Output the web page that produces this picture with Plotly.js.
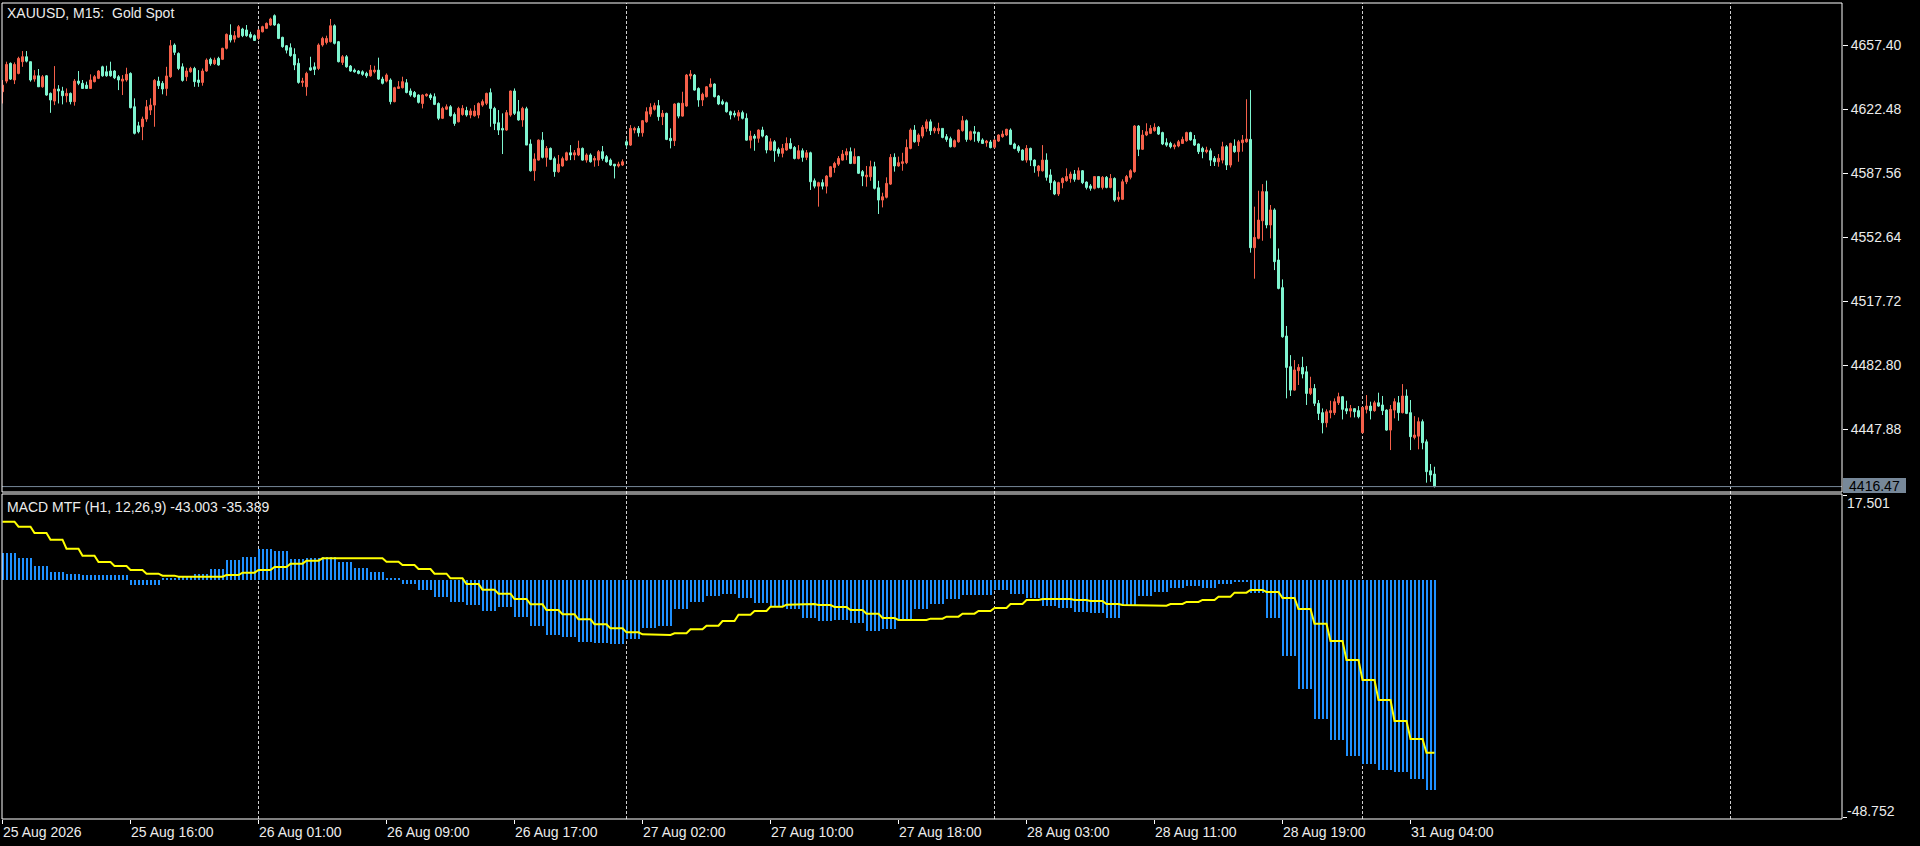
<!DOCTYPE html>
<html><head><meta charset="utf-8">
<script src="https://cdn.plot.ly/plotly-3.0.1.min.js"></script>
<style>html,body{margin:0;padding:0;background:#000;overflow:hidden}#chart{width:1920px;height:846px}</style>
</head><body><div id="chart"></div>
<script>
// XAUUSD M15 bars (index 0 = 25 Aug 2026 08:00)
const barOpen = [
4631.9,4637.7,4647.4,4638.3,4641.9,4648.3,4651.0,4648.3,4638.8,4640.6,
4634.6,4640.6,4631.0,4626.8,4633.4,4632.3,4629.7,4631.0,4626.5,4637.7,
4636.5,4635.5,4633.7,4637.4,4639.2,4645.5,4642.8,4643.2,4643.2,4640.1,
4637.7,4638.3,4641.9,4623.7,4613.3,4612.8,4617.0,4621.9,4624.6,4637.7,
4636.5,4633.7,4640.1,4657.4,4652.8,4645.5,4640.1,4642.8,4644.6,4638.3,
4637.0,4643.2,4649.6,4647.2,4650.1,4649.6,4655.6,4662.8,4660.6,4661.7,
4666.1,4665.6,4663.2,4662.5,4661.0,4664.6,4666.5,4668.3,4673.4,4668.7,
4661.6,4657.0,4655.9,4652.3,4647.4,4637.0,4634.6,4645.0,4645.5,4644.6,
4657.4,4658.8,4659.2,4667.9,4659.2,4647.9,4651.0,4645.9,4643.7,4643.2,
4642.8,4641.9,4640.6,4642.8,4643.7,4638.8,4637.7,4638.3,4626.5,4633.7,
4634.1,4636.8,4632.3,4631.5,4630.1,4625.5,4629.7,4630.1,4629.2,4625.5,
4617.4,4622.4,4623.7,4619.5,4615.5,4619.5,4621.7,4619.2,4618.8,4619.2,
4624.6,4625.6,4631.4,4622.8,4615.0,4611.9,4611.0,4619.2,4632.3,4621.0,
4616.5,4622.6,4603.4,4588.8,4594.6,4605.5,4596.1,4601.0,4595.4,4588.3,
4591.4,4594.6,4598.6,4597.4,4597.4,4601.0,4594.6,4597.4,4594.6,4594.6,
4599.2,4596.5,4594.6,4592.4,4591.4,4591.9,4604.6,4602.8,4611.0,4611.9,
4609.5,4615.5,4619.7,4622.3,4624.3,4618.3,4620.1,4606.5,4605.2,4625.6,
4618.6,4624.1,4640.5,4641.0,4633.7,4627.4,4629.2,4634.6,4636.1,4629.6,
4626.5,4625.9,4621.0,4620.1,4618.6,4620.5,4617.4,4605.5,4607.7,4606.5,
4611.0,4607.7,4600.1,4604.6,4600.5,4598.3,4600.1,4603.7,4601.5,4595.5,
4599.7,4596.1,4598.6,4583.3,4580.4,4582.3,4580.4,4585.5,4590.6,4592.4,
4594.6,4597.4,4599.2,4592.8,4596.5,4588.3,4585.5,4585.5,4591.0,4579.5,
4572.8,4574.3,4581.5,4596.1,4591.4,4592.8,4593.2,4601.0,4611.0,4604.6,
4607.7,4611.9,4615.5,4610.6,4610.6,4611.9,4607.4,4606.3,4601.9,4604.6,
4610.7,4616.1,4605.9,4610.1,4609.7,4605.6,4604.1,4604.5,4601.6,4605.0,
4607.4,4608.3,4611.0,4603.4,4601.9,4600.1,4594.6,4601.0,4594.6,4588.8,
4588.8,4594.6,4586.5,4582.8,4576.1,4582.3,4583.4,4584.6,4587.0,4584.1,
4588.8,4582.6,4580.5,4579.2,4585.6,4579.7,4585.2,4579.7,4584.6,4573.2,
4573.2,4582.8,4585.2,4588.3,4613.2,4600.5,4608.3,4609.2,4610.7,4612.5,
4609.6,4604.1,4603.7,4601.9,4602.3,4603.7,4605.2,4609.6,4605.9,4603.4,
4601.0,4599.2,4599.7,4595.6,4593.7,4594.6,4601.9,4591.9,4602.3,4599.2,
4604.1,4604.6,4605.9,4546.8,4551.9,4561.5,4577.4,4559.2,4567.4,4540.1,
4525.0,4498.6,4481.9,4469.1,4479.7,4481.5,4479.1,4467.3,4470.0,4461.9,
4456.8,4451.3,4456.8,4456.8,4462.2,4465.5,4459.0,4457.7,4459.0,4457.9,
4445.9,4458.6,4460.4,4457.9,4462.2,4461.0,4458.2,4447.3,4458.2,4462.2,
4456.8,4465.9,4456.8,4443.3,4444.0,4451.9,4440.9,4425.1,4423.3];
const barHigh = [
4638.3,4648.3,4647.9,4647.9,4651.0,4654.1,4654.1,4648.3,4643.7,4644.3,
4641.0,4641.0,4631.5,4645.9,4635.5,4634.6,4633.7,4631.5,4638.8,4643.2,
4638.3,4637.4,4641.4,4641.0,4643.7,4646.1,4646.1,4648.3,4643.7,4641.0,
4641.0,4645.0,4642.5,4628.3,4615.5,4618.3,4627.4,4628.3,4638.8,4640.1,
4637.7,4645.5,4660.1,4658.3,4653.4,4647.4,4645.0,4645.5,4645.5,4643.7,
4644.6,4650.1,4650.5,4650.5,4651.0,4655.9,4663.7,4668.7,4665.0,4668.3,
4666.8,4668.3,4664.6,4663.2,4666.1,4667.9,4669.7,4672.3,4674.1,4669.2,
4661.9,4657.4,4658.3,4655.6,4650.1,4639.5,4642.8,4651.0,4647.9,4658.3,
4661.9,4662.5,4671.6,4668.7,4659.6,4651.9,4651.9,4646.5,4644.6,4643.7,
4643.6,4642.8,4646.5,4646.1,4650.5,4640.1,4641.9,4639.2,4634.6,4637.7,
4640.1,4638.8,4633.7,4632.3,4630.5,4630.5,4631.0,4631.0,4631.0,4626.1,
4623.7,4625.0,4624.6,4620.6,4623.7,4624.6,4623.7,4622.8,4624.6,4626.1,
4627.7,4631.4,4633.7,4623.7,4621.9,4620.1,4621.9,4632.5,4633.7,4627.4,
4623.7,4623.7,4605.9,4598.3,4605.9,4609.9,4602.3,4601.5,4596.5,4597.4,
4596.5,4599.2,4602.8,4600.1,4605.2,4601.5,4598.3,4598.3,4596.8,4600.1,
4602.3,4597.4,4595.5,4592.4,4593.7,4595.0,4605.9,4613.7,4612.8,4613.2,
4616.5,4623.4,4625.6,4625.9,4627.4,4621.9,4620.5,4611.9,4625.6,4625.9,
4631.9,4641.6,4643.7,4641.6,4634.3,4631.4,4635.0,4639.2,4636.5,4630.1,
4627.7,4626.5,4621.6,4621.6,4621.9,4621.6,4620.1,4610.6,4608.8,4611.4,
4612.8,4608.3,4606.5,4605.5,4601.5,4603.4,4607.0,4606.5,4602.3,4602.8,
4601.0,4600.1,4599.2,4584.6,4582.8,4584.1,4586.4,4591.4,4593.7,4596.8,
4600.1,4601.0,4601.5,4601.0,4596.8,4589.2,4591.4,4594.3,4593.7,4583.3,
4576.8,4585.2,4597.9,4598.3,4596.5,4598.6,4605.9,4611.9,4613.7,4609.2,
4613.7,4616.8,4616.8,4612.8,4615.0,4611.9,4608.8,4607.4,4605.9,4611.4,
4618.7,4616.8,4610.7,4613.2,4610.1,4606.5,4605.6,4605.6,4605.9,4608.7,
4610.7,4611.7,4611.9,4604.1,4602.8,4600.5,4602.8,4601.4,4595.0,4591.9,
4602.8,4598.3,4589.6,4583.7,4582.8,4585.2,4590.1,4588.3,4589.2,4590.6,
4589.2,4583.0,4581.5,4585.9,4585.6,4585.9,4585.9,4587.0,4585.2,4577.4,
4584.1,4586.5,4589.6,4613.7,4613.7,4611.0,4614.7,4613.7,4614.7,4613.2,
4610.1,4606.5,4604.6,4603.7,4605.6,4607.4,4610.1,4610.1,4608.3,4603.7,
4601.9,4601.9,4601.0,4596.8,4597.9,4604.6,4602.8,4604.1,4605.9,4605.6,
4608.3,4627.8,4632.8,4569.2,4577.9,4581.5,4583.4,4570.1,4568.3,4546.4,
4529.5,4504.1,4488.2,4485.5,4483.3,4487.3,4482.2,4476.4,4472.4,4463.7,
4459.1,4458.6,4463.3,4464.6,4467.7,4465.9,4463.3,4461.0,4459.1,4460.4,
4459.7,4466.4,4462.8,4463.3,4467.7,4465.9,4458.6,4461.0,4464.6,4465.9,
4472.4,4469.5,4463.7,4454.9,4454.2,4453.1,4442.2,4428.8,4427.3];
const barLow = [
4625.5,4636.5,4638.3,4636.1,4641.4,4645.5,4647.9,4637.4,4637.4,4634.6,
4634.1,4629.7,4620.4,4624.6,4625.5,4625.0,4626.1,4625.0,4624.3,4635.5,
4633.4,4633.4,4633.4,4637.0,4638.8,4640.1,4640.1,4640.1,4638.8,4632.8,
4630.1,4637.4,4622.8,4608.6,4609.2,4605.5,4615.5,4619.2,4612.8,4633.4,
4630.5,4629.7,4639.5,4651.9,4643.7,4637.4,4637.7,4642.3,4634.6,4634.6,
4635.2,4642.8,4646.1,4646.5,4646.1,4649.2,4655.0,4658.8,4658.8,4661.4,
4661.7,4661.9,4661.0,4659.6,4660.1,4664.3,4666.1,4667.9,4667.9,4660.6,
4655.9,4652.8,4651.0,4643.7,4636.3,4634.6,4629.7,4643.2,4641.0,4643.7,
4656.5,4657.7,4658.8,4657.7,4647.9,4646.5,4645.0,4642.8,4642.3,4641.4,
4640.6,4639.5,4640.1,4641.9,4638.3,4635.9,4637.0,4625.0,4626.1,4633.4,
4633.7,4631.0,4629.2,4628.6,4625.5,4622.8,4629.2,4627.4,4624.6,4616.4,
4617.0,4621.9,4618.3,4613.3,4615.2,4618.8,4618.3,4617.4,4618.3,4617.4,
4623.7,4624.6,4612.8,4611.0,4608.3,4597.9,4610.6,4618.3,4619.2,4616.1,
4612.8,4602.8,4588.3,4583.3,4594.3,4595.5,4591.0,4594.6,4585.5,4587.7,
4591.0,4594.1,4594.6,4594.6,4596.8,4594.3,4593.2,4593.2,4591.0,4591.4,
4594.3,4593.2,4591.4,4584.6,4590.6,4591.4,4601.5,4602.3,4609.2,4607.4,
4607.4,4615.0,4618.3,4621.6,4616.1,4613.7,4605.5,4601.0,4602.3,4617.4,
4618.3,4623.7,4638.7,4632.5,4623.7,4624.1,4628.8,4634.3,4628.8,4624.6,
4624.6,4620.5,4616.8,4617.9,4616.1,4616.8,4605.2,4601.0,4599.7,4604.1,
4607.0,4598.3,4599.7,4593.7,4596.5,4596.1,4599.7,4600.5,4595.0,4595.0,
4593.7,4594.6,4578.3,4579.2,4569.2,4578.6,4576.4,4585.2,4587.7,4591.4,
4594.3,4594.6,4592.4,4592.4,4587.0,4580.4,4580.1,4583.3,4578.6,4565.2,
4568.8,4573.7,4581.0,4588.3,4591.0,4588.8,4592.4,4600.5,4604.1,4602.3,
4606.5,4610.1,4608.3,4609.2,4608.8,4606.5,4604.6,4601.5,4601.5,4604.1,
4610.1,4604.6,4605.2,4604.6,4604.1,4603.4,4601.9,4601.0,4601.0,4604.5,
4606.8,4607.7,4602.8,4600.5,4598.6,4594.3,4593.2,4591.4,4587.7,4585.6,
4588.3,4583.4,4578.3,4575.5,4575.0,4579.2,4582.8,4582.3,4582.8,4583.7,
4581.5,4578.6,4577.9,4578.6,4579.2,4578.6,4579.2,4579.2,4571.9,4571.9,
4572.8,4581.5,4584.1,4587.7,4596.8,4600.1,4607.7,4608.8,4610.1,4608.3,
4602.8,4601.9,4601.0,4600.5,4601.6,4603.4,4604.6,4605.2,4602.3,4597.9,
4595.6,4598.3,4591.4,4591.4,4591.0,4592.8,4589.2,4590.6,4598.6,4593.7,
4599.2,4604.1,4544.1,4529.9,4551.4,4550.6,4557.4,4551.9,4534.6,4524.1,
4497.7,4464.6,4465.9,4468.8,4471.9,4475.5,4461.0,4466.4,4460.4,4452.8,
4445.5,4448.8,4453.7,4455.5,4461.0,4453.1,4456.0,4454.2,4454.2,4453.7,
4445.5,4456.4,4453.1,4457.3,4460.0,4455.5,4446.9,4436.4,4453.7,4452.4,
4456.4,4456.0,4436.4,4442.2,4436.8,4436.8,4418.6,4419.1,4416.0];
const barClose = [
4635.5,4646.8,4638.8,4646.8,4650.1,4651.0,4648.6,4638.3,4640.6,4634.6,
4640.1,4630.1,4627.4,4633.4,4632.3,4629.7,4631.0,4626.5,4637.7,4636.5,
4633.7,4633.7,4638.3,4640.1,4643.2,4640.6,4640.6,4640.6,4639.5,4638.3,
4638.8,4641.4,4623.2,4609.2,4610.1,4617.0,4623.7,4624.6,4638.1,4635.2,
4633.4,4640.5,4657.0,4653.4,4644.6,4638.1,4643.2,4644.6,4637.4,4637.0,
4643.2,4649.2,4647.2,4649.2,4646.5,4655.6,4663.2,4660.1,4662.5,4667.4,
4662.5,4662.5,4661.7,4659.9,4665.6,4667.4,4669.2,4671.6,4668.3,4661.0,
4656.5,4654.6,4651.6,4646.5,4637.0,4637.7,4641.9,4643.7,4644.1,4657.4,
4661.0,4661.0,4667.9,4658.3,4648.3,4651.0,4645.5,4643.2,4642.8,4641.9,
4641.4,4640.6,4643.7,4643.7,4638.8,4636.5,4641.0,4626.5,4634.1,4634.6,
4637.4,4631.5,4630.1,4629.2,4626.1,4630.1,4630.5,4628.6,4625.0,4617.4,
4622.8,4623.7,4618.8,4614.6,4622.8,4622.8,4619.2,4621.4,4621.4,4625.5,
4626.5,4631.0,4622.8,4614.6,4611.0,4611.0,4620.5,4632.3,4620.1,4616.5,
4622.8,4602.8,4588.8,4595.2,4605.5,4596.1,4601.0,4595.0,4588.3,4592.4,
4595.4,4598.6,4597.4,4598.6,4601.0,4594.6,4597.4,4593.7,4595.5,4599.2,
4595.5,4593.7,4591.9,4591.4,4592.4,4593.7,4602.8,4611.9,4611.9,4609.5,
4616.1,4621.0,4623.4,4624.3,4618.3,4620.1,4605.9,4605.2,4625.2,4618.6,
4625.6,4641.0,4641.6,4632.8,4627.4,4630.5,4634.6,4636.1,4629.2,4625.2,
4625.2,4621.0,4619.2,4619.2,4620.5,4617.4,4605.5,4607.7,4606.5,4611.0,
4607.7,4600.1,4604.6,4599.7,4598.3,4601.0,4603.7,4601.0,4595.5,4599.7,
4596.1,4598.6,4582.8,4580.4,4582.3,4580.4,4585.9,4591.0,4592.8,4595.5,
4597.9,4599.2,4592.8,4596.5,4587.4,4585.9,4586.4,4591.0,4579.2,4572.8,
4574.6,4581.9,4596.1,4591.4,4593.2,4593.7,4601.5,4611.0,4604.6,4608.3,
4612.5,4615.5,4610.6,4611.9,4611.9,4607.0,4605.9,4601.9,4605.2,4611.0,
4616.1,4605.9,4610.1,4609.2,4605.2,4603.7,4605.0,4601.4,4605.6,4608.3,
4608.8,4611.4,4603.2,4601.0,4599.7,4594.6,4601.0,4594.6,4591.4,4591.4,
4594.6,4585.2,4582.3,4576.1,4582.3,4584.6,4585.6,4587.0,4584.1,4588.8,
4582.3,4579.7,4579.2,4585.6,4579.7,4585.2,4579.7,4584.6,4572.8,4574.3,
4582.8,4585.6,4588.8,4613.2,4600.5,4608.3,4610.1,4611.9,4612.5,4608.8,
4603.4,4602.8,4601.9,4602.8,4604.6,4605.9,4609.6,4605.6,4602.8,4599.2,
4599.2,4600.1,4594.6,4593.7,4595.6,4601.9,4591.9,4603.7,4599.2,4604.6,
4605.6,4606.1,4546.8,4552.4,4561.9,4577.4,4559.2,4567.4,4539.2,4524.6,
4498.2,4481.5,4469.1,4480.1,4481.5,4477.9,4467.3,4470.0,4461.9,4456.4,
4451.3,4457.3,4457.9,4462.8,4465.5,4458.6,4457.7,4459.0,4457.3,4454.6,
4459.7,4460.4,4457.9,4462.2,4460.4,4457.9,4447.3,4458.6,4462.8,4456.8,
4465.9,4456.4,4443.7,4444.6,4451.9,4440.4,4424.6,4422.8,4416.47];

// MACD MTF (H1, 12,26,9): one value per H1 bar (4 M15 bars each)
const macdMainH1 = [
5.54,4.65,2.94,1.71,1.30,1.09,1.09,1.09,-0.96,-0.96,
0.55,0.75,1.30,2.32,4.17,4.79,6.50,6.02,4.38,4.65,
4.79,3.76,2.53,1.71,0.48,-0.82,-1.98,-3.35,-4.38,-4.99,
-6.22,-5.54,-7.45,-9.30,-11.15,-11.69,-12.65,-12.92,-13.13,-11.97,
-9.71,-9.30,-5.95,-4.38,-3.15,-2.87,-3.56,-4.58,-5.20,-5.81,
-7.66,-8.27,-8.07,-8.68,-10.32,-9.91,-8.00,-5.81,-4.79,-3.76,
-2.94,-2.94,-1.91,-2.74,-3.56,-5.20,-5.61,-6.43,-6.63,-7.66,
-4.99,-3.15,-2.32,-1.50,-1.09,-1.50,-0.82,-0.27,-2.53,-7.66,
-15.45,-22.22,-28.38,-32.68,-35.97,-37.61,-38.84,-39.25,-40.68,-43.003];
const macdSignalH1 = [
12.03,11.01,9.71,8.34,6.50,5.06,3.76,2.94,2.12,1.37,
0.96,0.75,0.75,0.75,1.09,1.57,2.12,2.74,3.42,4.03,
4.51,4.65,4.65,4.51,3.83,3.15,2.32,1.37,0.41,-0.75,
-1.91,-2.74,-3.83,-4.92,-6.09,-6.97,-8.00,-9.03,-9.85,-10.67,
-11.08,-11.21,-10.87,-10.05,-9.30,-8.34,-7.04,-6.29,-5.40,-4.99,
-4.85,-5.06,-5.47,-6.09,-6.84,-7.73,-8.14,-8.14,-7.86,-7.45,
-6.84,-6.29,-5.68,-4.85,-4.03,-3.83,-3.83,-4.03,-4.24,-4.85,
-5.06,-5.20,-5.20,-4.85,-4.44,-4.03,-3.35,-2.53,-1.98,-2.39,
-3.62,-5.88,-8.89,-12.44,-16.34,-20.44,-24.55,-28.85,-32.55,-35.389];
const barsPerH1 = 4;

const timeTickBars = [0,32,64,96,128,160,192,224,256,288,320,352];
const timeTickLabels = ['25 Aug 2026','25 Aug 16:00','26 Aug 01:00','26 Aug 09:00','26 Aug 17:00','27 Aug 02:00','27 Aug 10:00','27 Aug 18:00','28 Aug 03:00','28 Aug 11:00','28 Aug 19:00','31 Aug 04:00'];
const daySeparatorBars = [64,156,248,340,432];
const priceTicks = [4657.40,4622.48,4587.56,4552.64,4517.72,4482.80,4447.88];
const macdScaleTicks = [17.501,-48.752];
const lastPrice = 4416.47;
const chartTitle = 'XAUUSD, M15:  Gold Spot';
const macdTitle = 'MACD MTF (H1, 12,26,9) -43.003 -35.389';

const barIndex = barOpen.map((_, i) => i);
const histPerBar = barIndex.map(i => macdMainH1[Math.floor(i / barsPerH1)]);
const signalPerBar = barIndex.map(i => macdSignalH1[Math.floor(i / barsPerH1)]);

const UP = '#F5604A', DOWN = '#7FF5D0', TXT = '#ececec';
const FONT = 'Liberation Sans, Arial, sans-serif';

const traces = [
  { type:'candlestick', x:barIndex, open:barOpen, high:barHigh, low:barLow, close:barClose,
    xaxis:'x', yaxis:'y', whiskerwidth:0, hoverinfo:'skip',
    increasing:{line:{color:UP,width:1}, fillcolor:UP},
    decreasing:{line:{color:DOWN,width:1}, fillcolor:DOWN} },
  { type:'bar', x:barIndex, y:histPerBar, width:0.5, xaxis:'x', yaxis:'y2',
    marker:{color:'#1E90FF', line:{width:0}}, hoverinfo:'skip' },
  { type:'scatter', mode:'lines', x:barIndex, y:signalPerBar, xaxis:'x', yaxis:'y2',
    line:{color:'#FFFF00', width:2}, hoverinfo:'skip' }
];

const shapes = daySeparatorBars.map(b => ({
  type:'line', xref:'x', yref:'paper', x0:b, x1:b, y0:0, y1:1, layer:'below',
  line:{color:'#cfcfcf', width:1, dash:'3px,2px'} }));
shapes.push({ type:'line', xref:'paper', yref:'y', x0:0, x1:1, y0:lastPrice, y1:lastPrice,
  line:{color:'#778899', width:1} });
shapes.push({ type:'rect', xref:'paper', yref:'paper', x0:0, x1:1, y0:0.4007, y1:1,
  line:{color:'#ffffff', width:1}, fillcolor:'rgba(0,0,0,0)' });
shapes.push({ type:'rect', xref:'paper', yref:'paper', x0:0, x1:1, y0:0, y1:0.3983,
  line:{color:'#ffffff', width:1}, fillcolor:'rgba(0,0,0,0)' });

const annotations = [
  { xref:'paper', yref:'paper', x:0.0016, y:0.9877, xanchor:'left', yanchor:'middle', showarrow:false,
    text:chartTitle, font:{family:FONT, size:14, color:TXT} },
  { xref:'paper', yref:'paper', x:0.0016, y:0.3827, xanchor:'left', yanchor:'middle', showarrow:false,
    text:macdTitle, font:{family:FONT, size:14, color:TXT} },
  { xref:'paper', yref:'paper', x:1, xshift:3, y:0.3873, xanchor:'left', yanchor:'middle', showarrow:false,
    text:macdScaleTicks[0].toFixed(3), font:{family:FONT, size:14, color:TXT} },
  { xref:'paper', yref:'paper', x:1, xshift:3, y:0.0098, xanchor:'left', yanchor:'middle', showarrow:false,
    text:macdScaleTicks[1].toFixed(3), font:{family:FONT, size:14, color:TXT} },
  { xref:'paper', yref:'y', x:1, xshift:1, y:lastPrice, yshift:1, xanchor:'left', yanchor:'middle', showarrow:false,
    text:lastPrice.toFixed(2), bgcolor:'#778899', borderwidth:0, borderpad:1, width:61, height:13,
    font:{family:FONT, size:14, color:'#000000'} }
];

const layout = {
  width:1920, height:846, paper_bgcolor:'#000', plot_bgcolor:'#000',
  margin:{l:2, r:78, t:3, b:27}, showlegend:false, hovermode:false,
  boxgap:0.5, boxgroupgap:0, bargap:0,
  xaxis:{ range:[-0.125, 459.875], anchor:'y2', rangeslider:{visible:false},
    showgrid:false, zeroline:false, showline:false,
    tickmode:'array', tickvals:timeTickBars, ticktext:timeTickLabels,
    ticks:'outside', ticklen:4, tickwidth:1, tickcolor:'#ffffff',
    ticklabelposition:'outside right',
    tickfont:{family:FONT, size:14, color:TXT} },
  yaxis:{ domain:[0.4007, 1], range:[4413.50, 4680.32], side:'right', anchor:'x',
    showgrid:false, zeroline:false, showline:false,
    tickmode:'array', tickvals:priceTicks, ticktext:priceTicks.map(v => v.toFixed(2)),
    ticks:'outside', ticklen:5, tickwidth:1, tickcolor:'#ffffff',
    tickfont:{family:FONT, size:14, color:TXT} },
  yaxis2:{ domain:[0, 0.3983], range:[-48.96, 17.71], side:'right', anchor:'x',
    showgrid:false, zeroline:false, showline:false,
    tickmode:'array', tickvals:macdScaleTicks, showticklabels:false,
    ticks:'outside', ticklen:4, tickwidth:1, tickcolor:'#ffffff' },
  shapes:shapes, annotations:annotations
};

Plotly.newPlot('chart', traces, layout, {staticPlot:true, displayModeBar:false});
</script>
</body></html>
